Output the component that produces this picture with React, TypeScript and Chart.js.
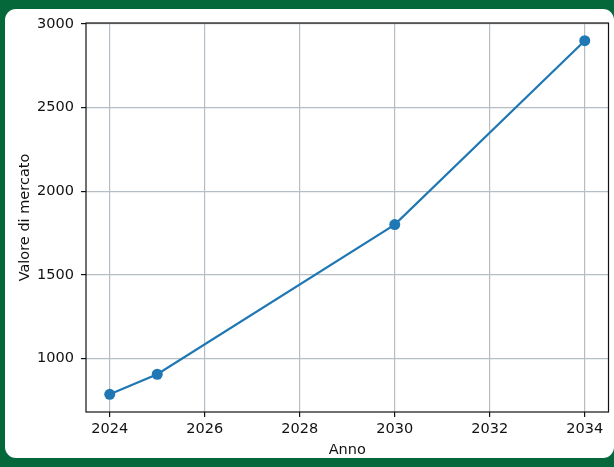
import React, { useEffect, useRef } from "react";
import { Chart, registerables } from "chart.js";

Chart.register(...registerables);

const years = [2024, 2025, 2030, 2034];
const marketValues = [785, 905, 1800, 2900];
const xTicks = [2024, 2026, 2028, 2030, 2032, 2034];
const yTicks = [1000, 1500, 2000, 2500, 3000];
const xTitle = "Anno";
const yTitle = "Valore di mercato";

const FONT = "'DejaVu Sans', sans-serif";

const framePlugin = {
  id: "frame",
  afterDatasetsDraw(chart: any) {
    const { ctx, chartArea } = chart;
    ctx.save();
    ctx.strokeStyle = "#111";
    ctx.lineWidth = 1.2;
    ctx.strokeRect(chartArea.left, chartArea.top, chartArea.right - chartArea.left, chartArea.bottom - chartArea.top);
    ctx.restore();
  },
};

export default function App() {
  const ref = useRef<HTMLCanvasElement>(null);
  useEffect(() => {
    if (!ref.current) return;
    const xMinD = Math.min(...years), xMaxD = Math.max(...years);
    const yMinD = Math.min(...marketValues), yMaxD = Math.max(...marketValues);
    const xm = (xMaxD - xMinD) * 0.05, ym = (yMaxD - yMinD) * 0.05;
    const chart = new Chart(ref.current, {
      type: "line",
      data: {
        datasets: [
          {
            data: years.map((x, i) => ({ x, y: marketValues[i] })),
            borderColor: "#1f77b4",
            backgroundColor: "#1f77b4",
            borderWidth: 2.2,
            pointRadius: 5.5,
            pointBorderWidth: 0,
            fill: false,
            tension: 0,
          },
        ],
      },
      options: {
        responsive: false,
        animation: false,
        layout: { padding: { left: 0, right: 5, top: 23, bottom: 0 } },
        plugins: { legend: { display: false }, tooltip: { enabled: false } },
        scales: {
          x: {
            type: "linear",
            min: xMinD - xm,
            max: xMaxD + xm,
            afterBuildTicks: (s: any) => { s.ticks = xTicks.map((v) => ({ value: v })); },
            afterFit: (s: any) => { s.height = 55; },
            ticks: { font: { family: FONT, size: 14.5 }, color: "#111", padding: 4, maxRotation: 0, callback: (v: any) => String(v) },
            grid: { color: "#b4bec4", lineWidth: 1.2, tickColor: "#111", tickLength: 5, tickWidth: 1.2 },
            border: { display: false },
            title: { display: true, text: xTitle, font: { family: FONT, size: 14.5 }, color: "#111", padding: { top: 0, bottom: 8 } },
          },
          y: {
            type: "linear",
            min: yMinD - ym,
            max: yMaxD + ym,
            afterBuildTicks: (s: any) => { s.ticks = yTicks.map((v) => ({ value: v })); },
            afterFit: (s: any) => { s.width = 86; },
            ticks: { font: { family: FONT, size: 14.5 }, color: "#111", padding: 7, callback: (v: any) => String(v) },
            grid: { color: "#b4bec4", lineWidth: 1.2, tickColor: "#111", tickLength: 5, tickWidth: 1.2 },
            border: { display: false },
            title: { display: true, text: yTitle, font: { family: FONT, size: 14.5 }, color: "#111", padding: { top: 17, bottom: 0 } },
          },
        },
      },
      plugins: [framePlugin],
    });
    return () => chart.destroy();
  }, []);
  return (
    <div style={{ position: "fixed", left: 0, top: 0, width: 614, height: 467, background: "#04683a" }}>
      <div style={{ position: "absolute", left: 5, top: 9, width: 609, height: 449, background: "#fff", borderRadius: 11 }} />
      <canvas ref={ref} width={614} height={467} style={{ position: "absolute", left: 0, top: 0, width: 614, height: 467 }} />
    </div>
  );
}
